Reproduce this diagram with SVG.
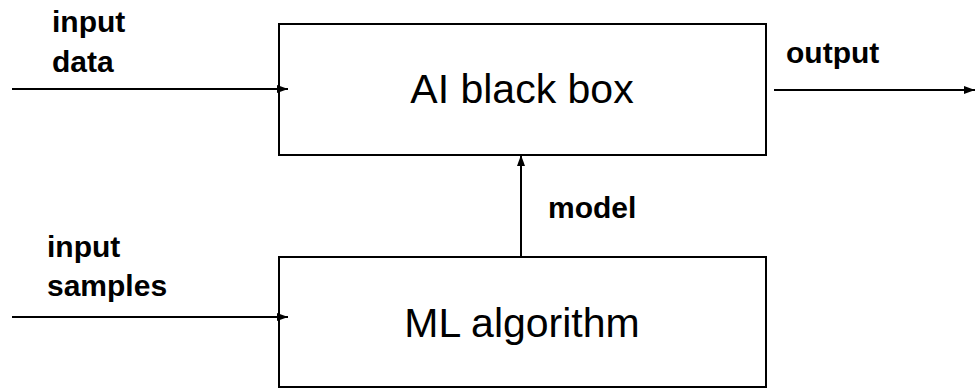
<svg xmlns="http://www.w3.org/2000/svg" width="975" height="388" viewBox="0 0 975 388">
  <style>
    .box { fill: #ffffff; stroke: #000000; stroke-width: 2; }
    .conn { stroke: #000000; stroke-width: 2; fill: none; }
    .title { font-family: "Liberation Sans", Arial, sans-serif; font-size: 41px; fill: #000000; text-anchor: middle; }
    .lbl { font-family: "Liberation Sans", Arial, sans-serif; font-size: 30px; font-weight: bold; fill: #000000; }
  </style>
  <defs>
    <marker id="arrow" viewBox="0 0 11 8" refX="11" refY="4" markerWidth="11" markerHeight="8" markerUnits="userSpaceOnUse" orient="auto">
      <path d="M0,0 L11,4 L0,8 Z" fill="#000000"/>
    </marker>
  </defs>
  <rect width="975" height="388" fill="#ffffff"/>
  <g id="ai-black-box">
    <rect class="box" x="279" y="24" width="487" height="131"/>
    <text class="title" x="522" y="103">AI black box</text>
  </g>
  <g id="ml-algorithm">
    <rect class="box" x="279" y="257" width="487" height="130"/>
    <text class="title" x="522" y="337">ML algorithm</text>
  </g>
  <g id="connectors">
    <line class="conn" x1="12" y1="89" x2="288" y2="89" marker-end="url(#arrow)"/>
    <line class="conn" x1="774" y1="90" x2="975" y2="90" marker-end="url(#arrow)"/>
    <line class="conn" x1="12" y1="317" x2="288" y2="317" marker-end="url(#arrow)"/>
    <line class="conn" x1="521" y1="257" x2="521" y2="155" marker-end="url(#arrow)"/>
  </g>
  <g id="labels">
    <text class="lbl" x="52" y="32">input</text>
    <text class="lbl" x="52" y="72">data</text>
    <text class="lbl" x="786" y="63">output</text>
    <text class="lbl" x="548" y="218">model</text>
    <text class="lbl" x="47" y="257">input</text>
    <text class="lbl" x="47" y="296">samples</text>
  </g>
</svg>
